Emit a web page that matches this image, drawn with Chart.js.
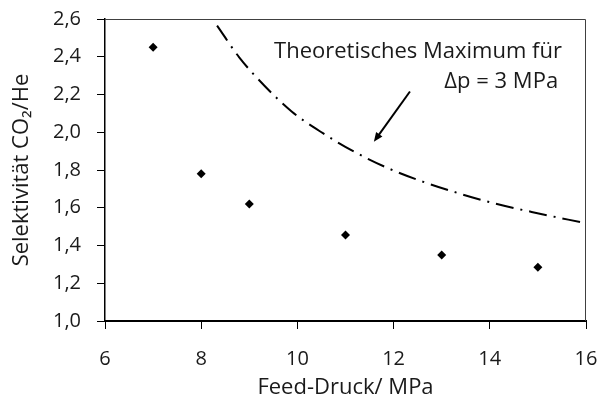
<!DOCTYPE html>
<html>
<head>
<meta charset="utf-8">
<script src="https://cdn.jsdelivr.net/npm/chart.js@4.4.0/dist/chart.umd.min.js"></script>
<style>
  html, body { margin: 0; padding: 0; background: #fff; }
  #wrap { width: 600px; height: 400px; }
</style>
</head>
<body>
<div id="wrap"><canvas id="myChart" width="600" height="400"></canvas></div>
<script>
// measured selectivity
const pressure = [7, 8, 9, 11, 13, 15];
const selectivity = [2.45, 1.78, 1.62, 1.455, 1.35, 1.285];

// theoretical maximum curve
const curveX = [8.33, 8.79, 9.31, 9.88, 10.53, 11.18, 11.89, 12.62, 13.36, 14.11, 14.87, 15.63, 16.0];
const curveY = [2.565, 2.397, 2.248, 2.110, 1.995, 1.897, 1.809, 1.737, 1.676, 1.622, 1.578, 1.537, 1.519];

const xTicks = [6, 8, 10, 12, 14, 16];
const yTicks = [1.0, 1.2, 1.4, 1.6, 1.8, 2.0, 2.2, 2.4, 2.6];

const FONT = '"Open Sans", "Noto Sans", sans-serif';

// box around plot + annotation text and arrow
const extras = {
  id: 'extras',
  afterDraw(chart) {
    const c = chart.ctx, a = chart.chartArea;
    const xs = chart.scales.x, ys = chart.scales.y;
    c.save();
    c.strokeStyle = '#404040';
    c.lineWidth = 1;
    c.beginPath();
    c.moveTo(a.left, a.top + 0.5);
    c.lineTo(a.right - 0.5, a.top + 0.5);
    c.lineTo(a.right - 0.5, a.bottom);
    c.stroke();

    c.fillStyle = '#1a1a1a';
    c.font = '22px ' + FONT;
    c.textAlign = 'right';
    c.textBaseline = 'middle';
    c.fillText('Theoretisches Maximum für', xs.getPixelForValue(15.5), ys.getPixelForValue(2.427));
    c.fillText('\u0394p = 3 MPa', xs.getPixelForValue(15.42), ys.getPixelForValue(2.267));

    // arrow
    const x1 = xs.getPixelForValue(12.34), y1 = ys.getPixelForValue(2.216);
    const x2 = xs.getPixelForValue(11.59), y2 = ys.getPixelForValue(1.95);
    const ang = Math.atan2(y2 - y1, x2 - x1);
    c.strokeStyle = '#000';
    c.lineWidth = 2;
    c.beginPath();
    c.moveTo(x1, y1);
    c.lineTo(x2 - 6 * Math.cos(ang), y2 - 6 * Math.sin(ang));
    c.stroke();
    c.fillStyle = '#000';
    c.beginPath();
    c.moveTo(x2, y2);
    c.lineTo(x2 - 10 * Math.cos(ang - 0.4), y2 - 10 * Math.sin(ang - 0.4));
    c.lineTo(x2 - 10 * Math.cos(ang + 0.4), y2 - 10 * Math.sin(ang + 0.4));
    c.closePath();
    c.fill();
    c.restore();
  }
};

const ctx = document.getElementById('myChart').getContext('2d');
new Chart(ctx, {
  type: 'scatter',
  data: {
    datasets: [{
      label: 'Messung',
      data: pressure.map((p, i) => ({ x: p, y: selectivity[i] })),
      pointStyle: 'rectRot',
      pointRadius: 4.5,
      backgroundColor: '#000',
      borderColor: '#000',
      borderWidth: 0
    }, {
      label: 'Theoretisches Maximum',
      data: curveX.map((p, i) => ({ x: p, y: curveY[i] })),
      showLine: true,
      cubicInterpolationMode: 'monotone',
      pointRadius: 0,
      borderColor: '#000',
      borderWidth: 2,
      borderDash: [18, 7, 2, 7],
      borderCapStyle: 'butt'
    }]
  },
  options: {
    responsive: false,
    animation: false,
    layout: { padding: 0 },
    plugins: { legend: { display: false }, tooltip: { enabled: false } },
    scales: {
      x: {
        type: 'linear',
        min: 6, max: 16,
        afterBuildTicks(s) { s.ticks = xTicks.map(v => ({ value: v })); },
        afterFit(s) { s.height = 79; s.paddingLeft = 0; s.paddingRight = 14; },
        grid: { drawOnChartArea: false, tickLength: 8, color: '#000', tickColor: '#000' },
        border: { color: '#000', width: 2 },
        ticks: { color: '#1a1a1a', font: { family: FONT, size: 20 }, padding: 18 },
        title: { display: true, text: 'Feed-Druck/ MPa', color: '#1a1a1a', font: { family: FONT, size: 22 }, padding: { top: 0, bottom: -1 } }
      },
      y: {
        min: 1.0, max: 2.6,
        afterBuildTicks(s) { s.ticks = yTicks.map(v => ({ value: v })); },
        afterFit(s) { s.width = 105; s.paddingTop = 19; s.paddingBottom = 0; },
        grid: { drawOnChartArea: false, tickLength: 8, color: '#000', tickColor: '#000' },
        border: { color: '#000', width: 1.5 },
        ticks: {
          color: '#1a1a1a', font: { family: FONT, size: 20 }, padding: 16,
          callback: v => v.toFixed(1).replace('.', ',')
        },
        title: { display: true, text: 'Selektivität CO\u2082/He', color: '#1a1a1a', font: { family: FONT, size: 22 }, padding: { top: 9, bottom: 0 } }
      }
    }
  },
  plugins: [extras]
});
</script>
</body>
</html>
